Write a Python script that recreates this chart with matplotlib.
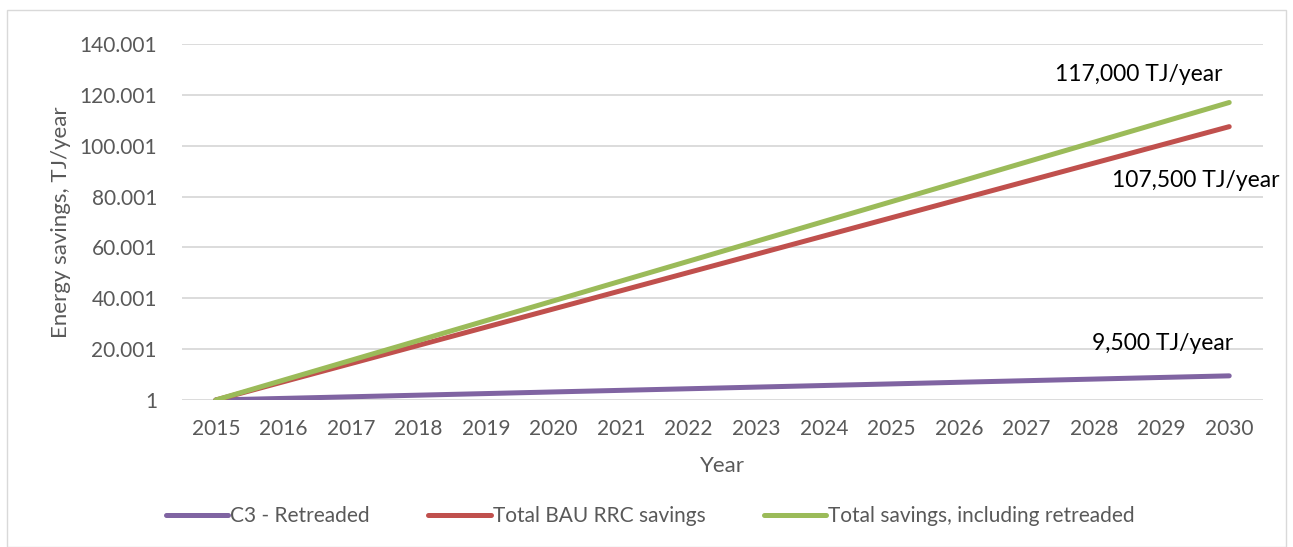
import matplotlib.pyplot as plt
from matplotlib.patches import Rectangle

plt.rcParams['font.family'] = ['Lato', 'DejaVu Sans']

years = list(range(2015, 2031))
c3_retreaded = [1, 630, 1270, 1900, 2530, 3170, 3800, 4430, 5070, 5700,
                6330, 6970, 7600, 8230, 8870, 9500]
bau_rrc = [1, 7170, 14330, 21500, 28670, 35830, 43000, 50170, 57330, 64500,
           71670, 78830, 86000, 93170, 100330, 107500]
total_incl = [1, 7800, 15600, 23400, 31200, 39000, 46800, 54600, 62400, 70200,
              78000, 85800, 93600, 101400, 109200, 117000]
y_ticks = [1, 20001, 40001, 60001, 80001, 100001, 120001, 140001]
end_labels = ["9,500 TJ/year", "107,500 TJ/year", "117,000 TJ/year"]

fig = plt.figure(figsize=(12.93, 5.47), dpi=100)
ax = fig.add_axes([182 / 1293, 1 - 400 / 547, (1263 - 182) / 1293, (400 - 44) / 547])

# outer chart border
fig.patches.append(Rectangle((7 / 1293, 0), 1279 / 1293, 1 - 10 / 547,
                             transform=fig.transFigure, fill=False,
                             edgecolor='#D9D9D9', linewidth=1))

x = list(range(len(years)))
ax.plot(x, c3_retreaded, color='#8064A2', lw=3.6, solid_capstyle='round', label='C3 - Retreaded')
ax.plot(x, bau_rrc, color='#C0504D', lw=3.6, solid_capstyle='round', label='Total BAU RRC savings')
ax.plot(x, total_incl, color='#9BBB59', lw=3.6, solid_capstyle='round',
        label='Total savings, including retreaded')

ax.set_xlim(-0.5, len(years) - 0.5)
ax.set_ylim(1, 140001)
ax.set_xticks(x)
ax.set_xticklabels([str(y) for y in years])
ax.set_yticks(y_ticks)
ax.set_yticklabels([f"{v:,}".replace(',', '.') for v in y_ticks])
ax.tick_params(length=0, labelsize=15, colors='#595959')
ax.tick_params(axis='x', pad=14)
ax.tick_params(axis='y', pad=18)
for s in ax.spines.values():
    s.set_visible(False)
ax.grid(axis='y', color='#D9D9D9', lw=1.3)
ax.set_axisbelow(True)

ax.set_xlabel('Year', fontsize=16, color='#595959', labelpad=12)
ax.set_ylabel('Energy savings, TJ/year', fontsize=16, color='#595959', labelpad=6)

offsets = [(-67, 32), (-33, -54), (-90, 28)]
for series, txt, off in zip([c3_retreaded, bau_rrc, total_incl], end_labels, offsets):
    ax.annotate(txt, (x[-1], series[-1]), xytext=off, textcoords='offset pixels',
                ha='center', va='center', fontsize=16.5, color='black')

fig.legend(loc='center', bbox_to_anchor=(0.503, 1 - 516 / 547), ncol=3, frameon=False,
           fontsize=15, handlelength=3.0, handletextpad=0.1, columnspacing=2.8,
           labelcolor='#595959')

fig.savefig('out.png', dpi=100)
